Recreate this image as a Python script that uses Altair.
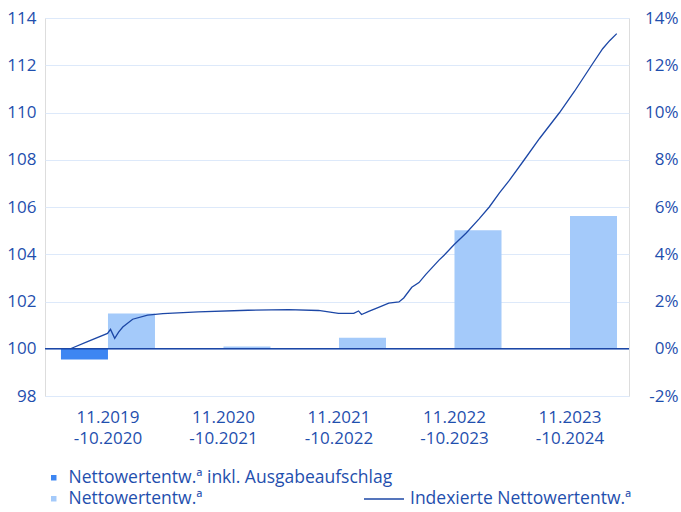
import altair as alt
import pandas as pd

# ---------------- data ----------------
periods = ["11.2019|-10.2020", "11.2020|-10.2021", "11.2021|-10.2022",
           "11.2022|-10.2023", "11.2023|-10.2024"]
net_incl_fee = [-0.46, None, None, None, None]      # % (dark bars)
net_perf = [1.49, 0.10, 0.47, 5.02, 5.62]          # % (light bars)

line_dates = [
    "2019-11-01", "2019-12-28", "2020-03-04", "2020-03-14", "2020-03-28",
    "2020-04-10", "2020-04-24", "2020-05-27", "2020-07-16", "2020-09-05",
    "2021-01-01", "2021-06-17", "2021-10-29", "2022-02-07", "2022-04-15",
    "2022-06-05", "2022-06-21", "2022-07-01", "2022-07-25", "2022-08-27",
    "2022-09-30", "2022-11-03", "2022-11-19", "2022-12-16", "2023-01-09",
    "2023-02-01", "2023-03-17", "2023-04-03", "2023-05-06", "2023-06-16",
    "2023-07-29", "2023-09-01", "2023-10-05", "2023-11-07", "2023-12-27",
    "2024-02-16", "2024-04-23", "2024-06-12", "2024-08-08", "2024-09-14",
    "2024-10-08", "2024-10-31",
]
line_values = [
    100.00, 100.30, 100.65, 100.82, 100.44,
    100.70, 100.92, 101.25, 101.42, 101.49,
    101.56, 101.63, 101.66, 101.62, 101.50,
    101.50, 101.60, 101.45, 101.58, 101.75,
    101.93, 101.98, 102.15, 102.60, 102.80,
    103.15, 103.75, 103.96, 104.40, 104.90,
    105.50, 106.00, 106.60, 107.13, 108.00,
    108.90, 110.00, 110.90, 112.00, 112.70,
    113.05, 113.34,
]

SER_DARK = "Nettowertentw.ª inkl. Ausgabeaufschlag"
SER_LIGHT = "Nettowertentw.ª"
SER_LINE = "Indexierte Nettowertentw.ª"

DARK = "#3d86f2"
LIGHT = "#a4cafa"
LINE = "#1c47a6"
TEXT = "#1f4fae"
GRID = "#dde9fa"
FONT = "Open Sans"

rows = []
for p, v in zip(periods, net_incl_fee):
    if v is not None:
        rows.append({"period": p, "series": SER_DARK, "value": v})
for p, v in zip(periods, net_perf):
    if v is not None:
        rows.append({"period": p, "series": SER_LIGHT, "value": v})
bars_df = pd.DataFrame(rows)

line_df = pd.DataFrame({"date": line_dates, "value": line_values,
                        "name": [SER_LINE] * len(line_dates)})

pct_scale = alt.Scale(domain=[-2, 14], nice=False, zero=False)

bars = alt.Chart(bars_df).mark_bar().encode(
    x=alt.X("period:N", sort=periods, title=None,
            scale=alt.Scale(paddingInner=0.186, paddingOuter=0.121, align=0.571),
            axis=alt.Axis(orient="bottom", labelExpr="split(datum.label, '|')",
                          labelAngle=0, domain=False, ticks=False, labelPadding=13,
                          labelFontSize=17, labelColor=TEXT, labelFont=FONT,
                          labelLineHeight=21)),
    xOffset=alt.XOffset("series:N", sort=[SER_DARK, SER_LIGHT],
                        scale=alt.Scale(domain=[SER_DARK, SER_LIGHT],
                                        paddingInner=0, paddingOuter=0)),
    y=alt.Y("value:Q", scale=pct_scale, title=None,
            axis=alt.Axis(orient="right", values=list(range(-2, 15, 2)),
                          labelExpr="datum.value + '%'", grid=False, domain=False,
                          ticks=False, labelAlign="right", labelPadding=49,
                          labelFontSize=17, labelColor=TEXT, labelFont=FONT)),
    y2=alt.datum(0),
    color=alt.Color("series:N",
                    scale=alt.Scale(domain=[SER_DARK, SER_LIGHT], range=[DARK, LIGHT]),
                    legend=alt.Legend(orient="none", legendX=0, legendY=451,
                                      direction="vertical", title=None,
                                      symbolType="square", symbolSize=30,
                                      symbolStrokeWidth=0, labelOffset=6,
                                      labelFontSize=17.5, labelColor=TEXT,
                                      labelFont=FONT, labelLimit=0, rowPadding=2)),
)

zero_rule = alt.Chart(pd.DataFrame({"v": [0]})).mark_rule(
    color=LINE, strokeWidth=1.5).encode(
    y=alt.Y("v:Q", scale=pct_scale, axis=None)
)

line = alt.Chart(line_df).mark_line(strokeWidth=1.3).encode(
    x=alt.X("date:T", axis=None,
            scale=alt.Scale(domain=[alt.DateTime(year=2019, month=8, date=8),
                                    alt.DateTime(year=2024, month=12, date=11)])),
    y=alt.Y("value:Q", title=None,
            scale=alt.Scale(domain=[98, 114], nice=False, zero=False),
            axis=alt.Axis(orient="left", values=list(range(98, 115, 2)),
                          grid=True, gridColor=GRID, gridWidth=1.2, domain=False,
                          ticks=False, labelPadding=9, labelFontSize=17,
                          labelColor=TEXT, labelFont=FONT)),
    stroke=alt.Stroke("name:N", scale=alt.Scale(domain=[SER_LINE], range=[LINE]),
                      legend=alt.Legend(orient="none", legendX=318, legendY=460,
                                        title=None, symbolType="stroke",
                                        symbolSize=1600, symbolStrokeWidth=1.3,
                                        labelOffset=5,
                                        labelFontSize=17.5, labelColor=TEXT,
                                        labelFont=FONT, labelLimit=0)),
)

chart = alt.layer(bars, zero_rule, line).resolve_scale(
    x="independent", y="independent"
).properties(
    width=584, height=378,
    autosize=alt.AutoSizeParams(type="none"),
    padding={"left": 45, "top": 18, "right": 52, "bottom": 116},
).configure_view(stroke=None).configure(font=FONT)

chart.save("out.html", embed_options={"renderer": "svg", "actions": False})
